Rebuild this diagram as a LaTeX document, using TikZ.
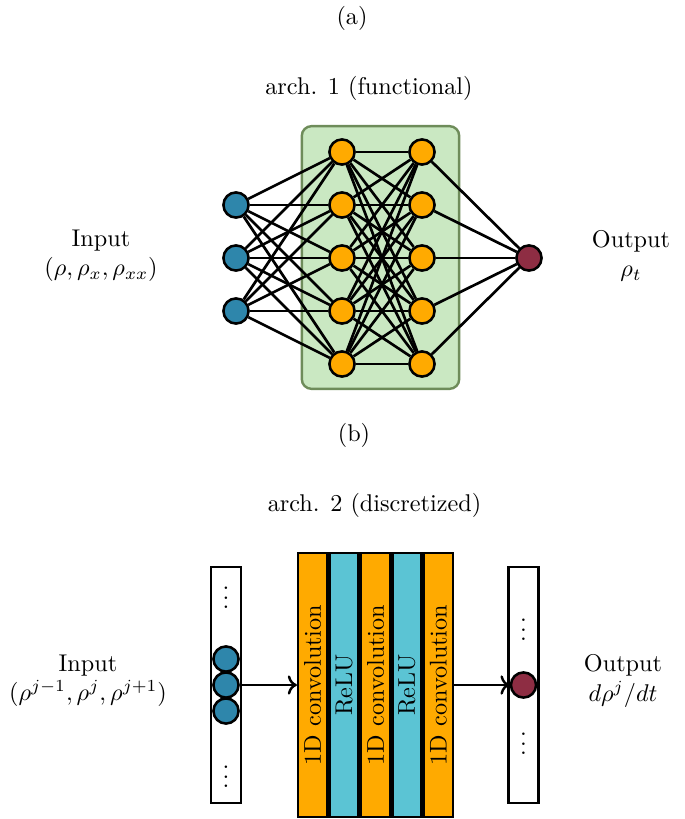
\documentclass[tikz,border=0pt]{standalone}
\usetikzlibrary{arrows.meta}
\definecolor{nnblue}{RGB}{46,134,171}
\definecolor{nnorange}{RGB}{255,170,0}
\definecolor{nnred}{RGB}{142,45,67}
\definecolor{nncyan}{RGB}{91,196,212}
\definecolor{nngreen}{RGB}{202,232,194}
\definecolor{nngreenline}{RGB}{110,140,90}
\tikzset{
  neuron/.style={circle, draw=black, line width=1.05pt, minimum size=10.4pt, inner sep=0pt},
  inneuron/.style={neuron, fill=nnblue},
  hidneuron/.style={neuron, fill=nnorange},
  outneuron/.style={neuron, fill=nnred},
  edge/.style={line width=1.1pt},
  hidbox/.style={draw=nngreenline, fill=nngreen, line width=1pt, rounded corners=4pt, minimum width=65pt, minimum height=108.5pt, inner sep=0pt},
  column/.style={draw=black, fill=white, line width=1pt, minimum width=12.4pt, minimum height=97.5pt, inner sep=0pt},
  stripe/.style={draw=black, line width=1pt, minimum width=12.0pt, minimum height=109pt, inner sep=0pt},
  lbl/.style={align=center, inner sep=0pt},
  arr/.style={->, line width=1pt},
}
\begin{document}
\begin{tikzpicture}[x=0.413pt,y=-0.413pt]
\useasboundingbox (0,0) rectangle (685,819);
% ---------- (a) ----------
\node[lbl] (ta) at (352,18) {(a)};
\node[lbl] (arch1) at (369,88) {arch. 1 (functional)};
\node[hidbox] (hb) at (380.5,257.5) {};
\foreach \k/\y in {1/205,2/258,3/311} \node[inneuron] (i\k) at (236,\y) {};
\foreach \k/\y in {1/152,2/205,3/258,4/311,5/364} {
  \node[hidneuron] (h\k) at (342,\y) {};
  \node[hidneuron] (g\k) at (422,\y) {};
}
\node[outneuron] (o) at (529,258) {};
\foreach \a in {1,2,3} \foreach \b in {1,...,5} \draw[edge] (i\a) -- (h\b);
\foreach \a in {1,...,5} \foreach \b in {1,...,5} \draw[edge] (h\a) -- (g\b);
\foreach \a in {1,...,5} \draw[edge] (g\a) -- (o);
\node[lbl] (inA) at (101,256) {Input\\$(\rho,\rho_x,\rho_{xx})$};
\node[lbl] (outA) at (631,256) {Output\\$\rho_t$};
% ---------- (b) ----------
\node[lbl] (tb) at (354,435) {(b)};
\node[lbl] (arch2) at (374.5,505) {arch. 2 (discretized)};
\node[column] (inc) at (226,685) {};
\node[inner sep=0pt] (d1) at (226,590.7) {$\vdots$};
\node[inner sep=0pt] (d2) at (226,769.7) {$\vdots$};
\node[inneuron] (b1) at (226,659) {};
\node[inneuron] (b2) at (226,685) {};
\node[inneuron] (b3) at (226,711) {};
\node[stripe, fill=nnorange] (s1) at (312.7,685) {\rotatebox{90}{1D convolution}};
\node[stripe, fill=nncyan]   (s2) at (344.1,685) {\rotatebox{90}{ReLU}};
\node[stripe, fill=nnorange] (s3) at (375.5,685) {\rotatebox{90}{1D convolution}};
\node[stripe, fill=nncyan]   (s4) at (406.9,685) {\rotatebox{90}{ReLU}};
\node[stripe, fill=nnorange] (s5) at (438.3,685) {\rotatebox{90}{1D convolution}};
\node[column] (outc) at (523.5,685) {};
\node[inner sep=0pt] (d3) at (523.5,622.7) {$\vdots$};
\node[inner sep=0pt] (d4) at (523.5,736.7) {$\vdots$};
\node[outneuron] (ob) at (523.5,685) {};
\draw[arr] (inc.east |- b2) -- (s1.west);
\draw[arr] (s5.east) -- (ob.west);
\node[lbl] (inB) at (88,681) {Input\\$(\rho^{j-1},\rho^{j},\rho^{j+1})$};
\node[lbl] (outB) at (623,681) {Output\\$d\rho^{j}/dt$};
\end{tikzpicture}
\end{document}
